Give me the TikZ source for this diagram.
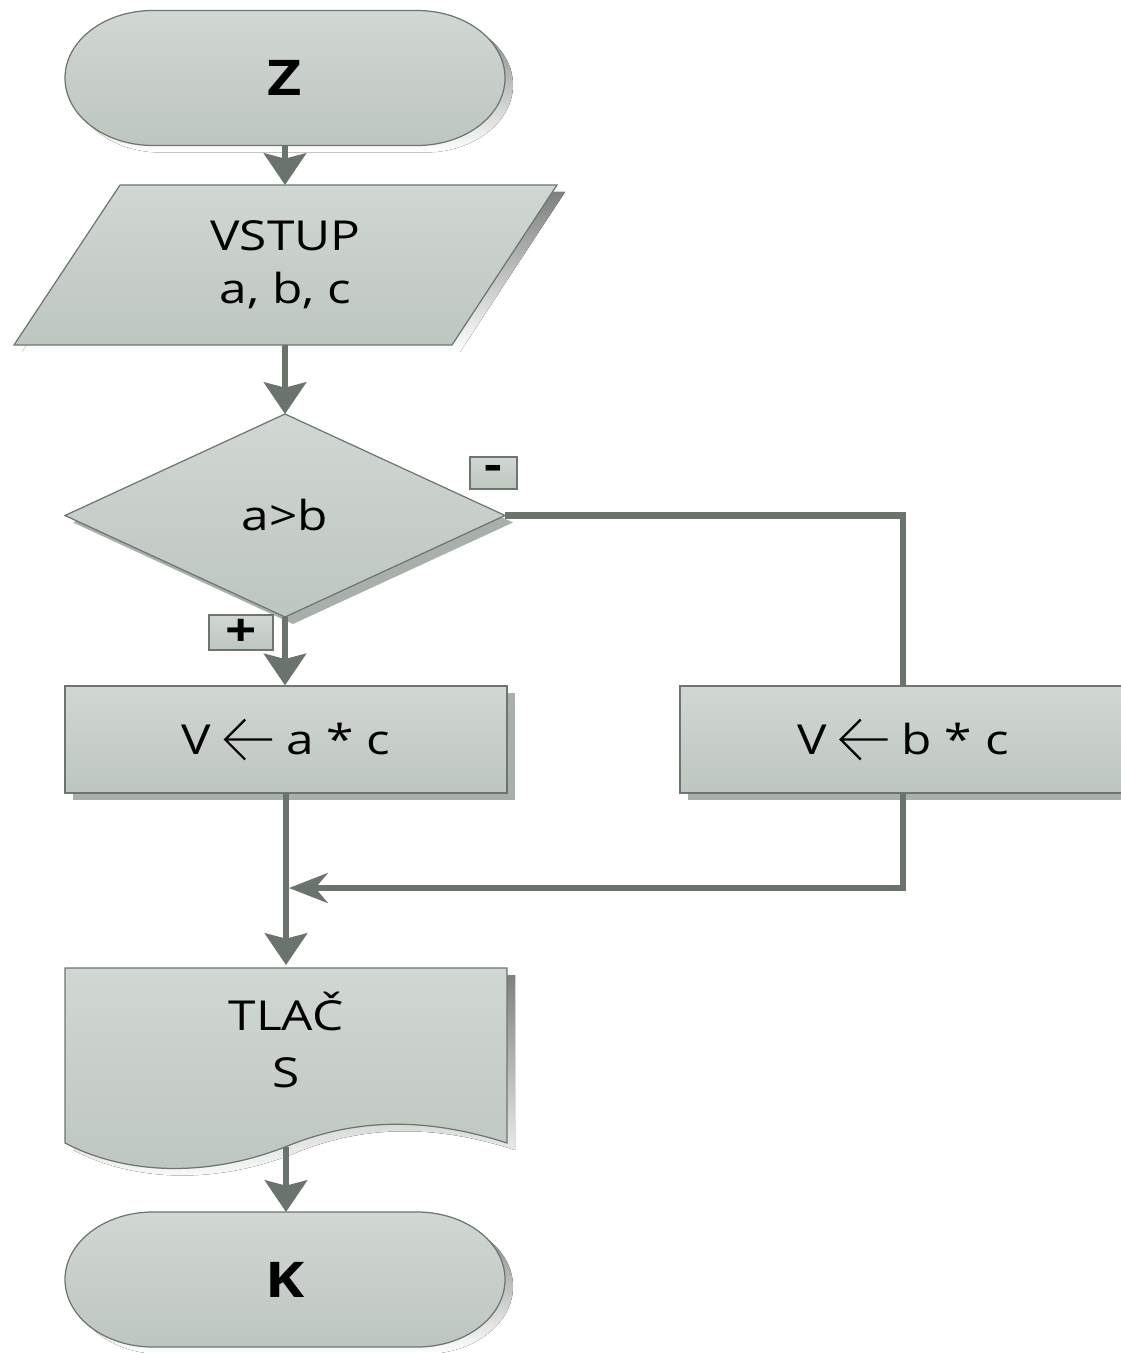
\documentclass[tikz,border=0pt]{standalone}
\usepackage{fontspec}
\setmainfont{Open Sans}[FakeStretch=1.2]
\usepackage{tikz}
\usetikzlibrary{arrows.meta,shapes.geometric,shadows,backgrounds}
\definecolor{boxtop}{RGB}{209,215,211}
\definecolor{boxbot}{RGB}{190,198,192}
\definecolor{boxline}{RGB}{108,118,110}
\definecolor{flow}{RGB}{106,116,108}
\definecolor{shade}{RGB}{169,176,171}
% outlines in local coordinates
\newcommand{\termpath}{(-2.64,1.35) -- (2.64,1.35) arc[start angle=90, end angle=-90, x radius=1.76, y radius=1.35]
  -- (-2.64,-1.35) arc[start angle=270, end angle=90, x radius=1.76, y radius=1.35] -- cycle}
\newcommand{\iopath}{(-3.31,1.6) -- (5.43,1.6) -- (3.33,-1.6) -- (-5.43,-1.6) -- cycle}
\newcommand{\docpath}{(0,3) -- (8.84,3) -- (8.84,-0.5) .. controls (7.1,0.06) and (5.7,-0.04) .. (4.4,-0.58)
  .. controls (2.7,-1.24) and (1.1,-1.08) .. (0,-0.5) -- cycle}
% assignment arrow
\newcommand{\assign}{\tikz[baseline={(0,-0.3)}]\draw[line width=1.3pt, line join=miter]
  (0.94,0) -- (0,0) (0.4,0.4) -- (0,0) -- (0.4,-0.4);}

\begin{document}
\begin{tikzpicture}[
  every node/.style={font=\fontsize{23.5}{30}\selectfont},
  box/.style={draw=boxline, line width=0.7pt, top color=boxtop, bottom color=boxbot},
  shadowed/.style={drop shadow={shadow xshift=0.16cm, shadow yshift=-0.14cm, fill=shade, opacity=1}},
  plain/.style={inner sep=0pt, outer sep=0pt},
  flowline/.style={draw=flow, line width=3.5pt},
  flowarrow/.style={flowline, -{Stealth[length=18pt, width=24pt, inset=3pt]}},
  joinarrow/.style={flowline, -{Stealth[length=22pt, width=17pt, inset=7pt]}},
  tag/.style={draw=boxline, line width=0.6pt, top color=boxtop, bottom color=boxbot, inner sep=0pt,
    font=\fontsize{26}{26}\selectfont\bfseries}]
  \useasboundingbox (0,0) rectangle (22.4,-27.06);
  % start / input / test
  \node[plain, minimum width=8.8cm, minimum height=2.7cm, font=\fontsize{28}{28}\selectfont\bfseries]
    (start) at (5.7,-1.56) {Z};
  \node[plain, minimum width=10.86cm, minimum height=3.2cm, align=center] (input) at (5.71,-5.3) {VSTUP\\a, b, c};
  \node[diamond, box, shadowed, plain, minimum width=8.8cm, minimum height=4.06cm] (test) at (5.7,-10.31) {a>b};
  \node[tag, minimum width=0.94cm, minimum height=0.64cm] (minus) at (9.87,-9.46) {-};
  \node[tag, minimum width=1.28cm, minimum height=0.7cm] (plus) at (4.82,-12.65) {+};
  % both branches
  \node[box, shadowed, minimum width=8.84cm, minimum height=2.14cm] (yes) at (5.72,-14.79)
    {V \assign\ a * c};
  \node[box, shadowed, minimum width=8.92cm, minimum height=2.14cm] (no) at (18.06,-14.79)
    {V \assign\ b * c};
  % output / stop
  \node[plain, minimum width=8.84cm, minimum height=3cm, align=center, font=\fontsize{23.5}{32}\selectfont]
    (out) at (5.72,-20.8) {TLAČ\\S};
  \node[plain, minimum width=8.8cm, minimum height=2.7cm, font=\fontsize{28}{28}\selectfont\bfseries]
    (stop) at (5.7,-25.59) {K};
  \begin{pgfonlayer}{background}
    \foreach \t in {start,stop} {
      \begin{scope}[shift={(\t.center)}]
        \fill[shade, shift={(0.16,-0.14)}] \termpath;
        \draw[box] \termpath;
      \end{scope}
    }
    \begin{scope}[shift={(input.center)}]
      \fill[shade, shift={(0.16,-0.14)}] \iopath;
      \draw[box] \iopath;
    \end{scope}
    \begin{scope}[shift={(5.72,-20.86)}, shift={(-4.42,-1.5)}]
      \fill[shade, shift={(0.16,-0.14)}] \docpath;
      \draw[box] \docpath;
      \coordinate (outwave) at (4.42,-0.58);
    \end{scope}
  \end{pgfonlayer}
  % connectors
  \coordinate (join) at (5.78,-17.76);
  \draw[flowarrow] (start.south) -- (start.south |- input.north);
  \draw[flowarrow] (test.north |- input.south) -- (test.north);
  \draw[flowarrow] (test.south) -- (test.south |- yes.north);
  \draw[flowline] (test.east) -| (no.north);
  \draw[flowarrow] (yes.south) -- (yes.south |- out.north);
  \draw[joinarrow] (no.south) |- (join);
  \draw[flowarrow] (outwave) -- (outwave |- stop.north);
\end{tikzpicture}
\end{document}
